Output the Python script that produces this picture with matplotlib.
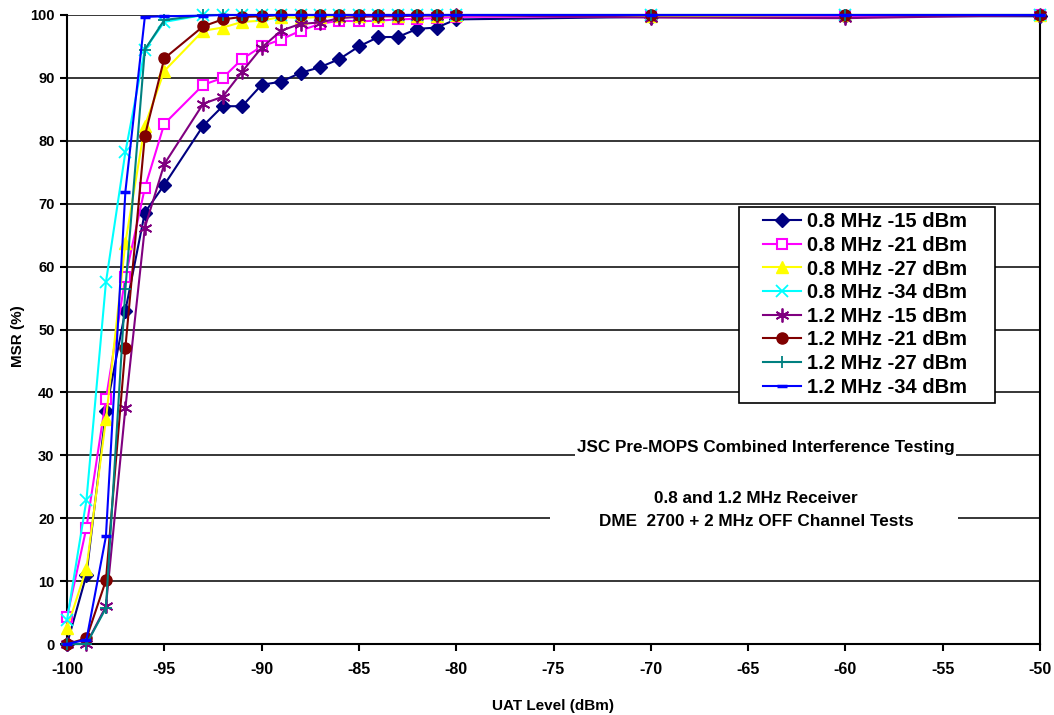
import matplotlib
matplotlib.use("Agg")
import matplotlib.pyplot as plt
from matplotlib.patches import Rectangle

plt.rcParams['font.family'] = ['Liberation Sans', 'DejaVu Sans']
plt.rcParams['font.weight'] = 'bold'
plt.rcParams['axes.unicode_minus'] = False

# UAT level sweep (dBm)
uat_level = [-100, -99, -98, -97, -96, -95, -93, -92, -91, -90, -89, -88,
             -87, -86, -85, -84, -83, -82, -81, -80, -70, -60, -50]

# MSR (%) per receiver bandwidth / DME level
msr_08_15 = [0, 11, 37, 53, 68.6, 73, 82.4, 85.5, 85.5, 88.9, 89.4, 90.8,
             91.7, 93.0, 95.0, 96.5, 96.5, 97.8, 98.0, 99.3, 99.7, 99.8, 99.8]
msr_08_21 = [4.3, 18.5, 38.9, 58.3, 72.5, 82.7, 88.9, 90.0, 93.0, 95.0, 96.1, 97.5,
             98.6, 99.1, 99.0, 99.1, 99.3, 99.4, 99.5, 99.7, 99.8, 99.8, 100]
msr_08_27 = [2.5, 12, 35.7, 63.8, 82.4, 91.1, 97.5, 98.0, 98.9, 99.1, 99.7, 99.5,
             99.7, 99.8, 99.8, 99.8, 99.8, 99.9, 99.9, 100, 99.8, 100, 100]
msr_08_34 = [3.8, 22.9, 57.5, 78.2, 94.5, 98.9, 100, 100, 100, 100, 100, 100,
             100, 100, 100, 100, 100, 100, 100, 100, 100, 100, 100]
msr_12_15 = [0, 0, 6.0, 37.5, 66.2, 76.3, 85.9, 87.0, 91.0, 94.8, 97.5, 98.6,
             98.8, 99.5, 99.7, 99.8, 99.8, 99.9, 99.9, 100, 99.6, 99.5, 100]
msr_12_21 = [0, 0.9, 10.1, 47.1, 80.8, 93.1, 98.2, 99.3, 99.7, 99.8, 100, 100,
             100, 100, 100, 100, 100, 100, 100, 100, 100, 100, 100]
msr_12_27 = [0, 0, 5.7, 56.4, 94.5, 99.2, 100, 100, 100, 100, 100, 100,
             100, 100, 100, 100, 100, 100, 100, 100, 100, 100, 100]
msr_12_34 = [0, 0.7, 17.1, 71.9, 99.7, 99.8, 99.9, 100, 100, 100, 100, 100,
             100, 100, 100, 100, 100, 100, 100, 100, 100, 100, 100]

series = [
    ("0.8 MHz -15 dBm", msr_08_15, "#000080", "D", dict(ms=7)),
    ("0.8 MHz -21 dBm", msr_08_21, "#FF00FF", "s", dict(ms=7, mfc="white", mew=1.5)),
    ("0.8 MHz -27 dBm", msr_08_27, "#FFFF00", "^", dict(ms=8)),
    ("0.8 MHz -34 dBm", msr_08_34, "#00FFFF", "x", dict(ms=8, mew=1.3)),
    ("1.2 MHz -15 dBm", msr_12_15, "#800080", (6, 2, 0), dict(ms=10, mew=1.3)),
    ("1.2 MHz -21 dBm", msr_12_21, "#800000", "o", dict(ms=8)),
    ("1.2 MHz -27 dBm", msr_12_27, "#008080", "+", dict(ms=9, mew=1.3)),
    ("1.2 MHz -34 dBm", msr_12_34, "#0000FF", "_", dict(ms=7, mew=2.5)),
]

fig = plt.figure(figsize=(10.54, 7.15), dpi=100)
ax = fig.add_axes([67 / 1054, 71 / 715, 973 / 1054, 629 / 715])

for label, vals, col, mk, kw in series:
    ax.plot(uat_level, vals, color=col, marker=mk, lw=1.5, mec=col,
            label=label, clip_on=False, zorder=3, **kw)

ax.set_xlim(-100, -50)
ax.set_ylim(0, 100)
ax.set_xticks(range(-100, -49, 5))
ax.set_yticks(range(0, 101, 10))
ax.yaxis.grid(True, color="black", lw=1.1)
ax.set_axisbelow(True)
ax.spines["top"].set_visible(False)
for s in ("left", "bottom", "right"):
    ax.spines[s].set_linewidth(1.5)
ax.tick_params(axis="both", width=1.5, length=5, direction="out")
ax.tick_params(axis="x", labelsize=11.5, pad=8)
ax.tick_params(axis="y", labelsize=10.5, pad=4, right=False)

ax.set_xlabel("UAT Level (dBm)", fontsize=11, fontweight="bold", labelpad=16)
ax.set_ylabel("MSR (%)", fontsize=11, fontweight="bold")
ax.yaxis.set_label_coords(-0.043, 0.49)

# legend frame drawn separately so the entries can sit inset from the border
ax.add_patch(Rectangle((0.6906, 0.3831), 0.2631, 0.3116, transform=ax.transAxes,
                       facecolor="white", edgecolor="black", lw=1.2, zorder=4,
                       clip_on=False))
leg = ax.legend(loc="upper left", bbox_to_anchor=(0.709, 0.696), borderaxespad=0,
                frameon=False, prop=dict(size=14.5, weight="bold"),
                handlelength=1.9, handletextpad=0.3, labelspacing=0.23,
                borderpad=0.3)
leg.set_zorder(5)

ax.text(-64.1, 31.2, "JSC Pre-MOPS Combined Interference Testing",
        fontsize=12.3, fontweight="bold", ha="center", va="center", zorder=4,
        bbox=dict(facecolor="white", edgecolor="none", pad=1.5))
ax.add_patch(Rectangle((-75.2, 17.3), 21.0, 7.0, facecolor="white",
                       edgecolor="none", zorder=1))
ax.text(-64.6, 21.3, "0.8 and 1.2 MHz Receiver\nDME  2700 + 2 MHz OFF Channel Tests",
        fontsize=12.3, fontweight="bold", ha="center", va="center", zorder=4,
        linespacing=1.65)

fig.savefig("out.png", dpi=100)
